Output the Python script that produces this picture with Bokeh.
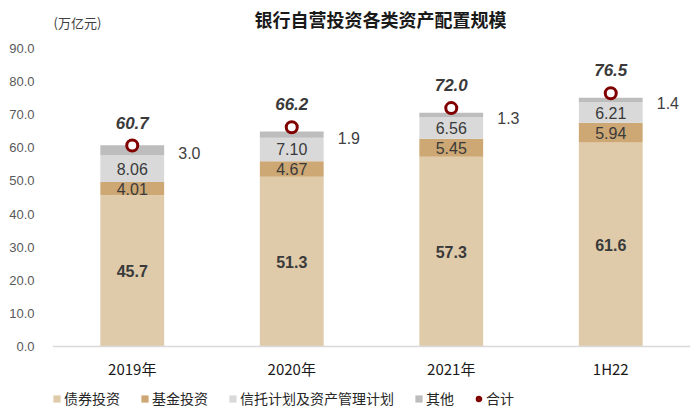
from bokeh.plotting import figure
from bokeh.models import (ColumnDataSource, Range1d, FactorRange, Legend, LegendItem,
                          Label, Span, NumeralTickFormatter)
from bokeh.core.properties import value
from bokeh.embed import file_html
from bokeh.resources import INLINE

categories = ["2019年", "2020年", "2021年", "1H22"]
bonds = [45.7, 51.3, 57.3, 61.6]
funds = [4.01, 4.67, 5.45, 5.94]
trusts = [8.06, 7.10, 6.56, 6.21]
others = [3.0, 1.9, 1.3, 1.4]
totals = [60.7, 66.2, 72.0, 76.5]
series_names = ["债券投资", "基金投资", "信托计划及资产管理计划", "其他"]
total_name = "合计"
unit_text = "(万亿元)"
title_text = "银行自营投资各类资产配置规模"
y_ticks = [0, 10, 20, 30, 40, 50, 60, 70, 80, 90]

colors = ["#DFCBAA", "#CDA774", "#D9D9D9", "#BDBDBD"]
ring_color = "#800000"
cjk = "Noto Sans CJK SC"
latin = "Liberation Sans"

keys = ["bonds", "funds", "trusts", "others"]
data = dict(cat=categories, bonds=bonds, funds=funds, trusts=trusts, others=others,
            totals=totals)
b0 = [0] * 4
b1 = [a for a in bonds]
b2 = [a + b for a, b in zip(b1, funds)]
b3 = [a + b for a, b in zip(b2, trusts)]
b4 = [a + b for a, b in zip(b3, others)]
data["base"] = b0
data["bond_mid"] = [(a + b) / 2 for a, b in zip(b0, b1)]
data["fund_mid"] = [(a + b) / 2 for a, b in zip(b1, b2)]
data["trust_mid"] = [(a + b) / 2 for a, b in zip(b2, b3)]
data["other_mid"] = [(a + b) / 2 for a, b in zip(b3, b4)]
data["bond_txt"] = [f"{v:.1f}" for v in bonds]
data["fund_txt"] = [f"{v:.2f}" for v in funds]
data["trust_txt"] = [f"{v:.2f}" for v in trusts]
data["other_txt"] = [f"{v:.1f}" for v in others]
data["total_txt"] = [f"{v:.1f}" for v in totals]
src = ColumnDataSource(data)

# value range 0..90 occupies the middle of the frame; the frame also hosts title & legend
y_min, y_max = -22.35, 104.5

p = figure(frame_width=638, frame_height=420, x_range=FactorRange(*categories, range_padding=0),
           y_range=Range1d(y_min, y_max), output_backend="svg", toolbar_location=None,
           min_border_left=52, min_border_right=10, min_border_top=0, min_border_bottom=0,
           outline_line_color=None, title=None)

renderers = p.vbar_stack(keys, x="cat", width=0.4, source=src, color=colors,
                         line_color=None)

ring = p.scatter(x="cat", y="totals", source=src, size=11, marker="circle",
                 fill_color="white", line_color=ring_color, line_width=3)

p.text(x="cat", y="bond_mid", text="bond_txt", source=src, text_align="center",
       text_baseline="middle", text_font=value(latin), text_font_size="16px",
       text_font_style="bold", text_color="#3A3A3A")
p.text(x="cat", y="fund_mid", text="fund_txt", source=src, text_align="center",
       text_baseline="middle", text_font=value(latin), text_font_size="16px",
       text_color="#3A3A3A")
p.text(x="cat", y="trust_mid", text="trust_txt", source=src, text_align="center",
       text_baseline="middle", text_font=value(latin), text_font_size="16px",
       text_color="#3A3A3A")
p.text(x="cat", y="other_mid", text="other_txt", source=src, text_align="left",
       text_baseline="middle", x_offset=46, y_offset=3, text_font=value(latin),
       text_font_size="16px", text_color="#404040")
p.text(x="cat", y="totals", text="total_txt", source=src, text_align="center",
       text_baseline="middle", y_offset=-23, text_font=value(latin),
       text_font_size="17px", text_font_style="bold italic", text_color="#3A3A3A")
# category labels under the baseline
p.text(x="cat", y="base", text="cat", source=src, text_align="center",
       text_baseline="middle", y_offset=22, text_font=value(cjk),
       text_font_size="15px", text_color="#1A1A1A")

# baseline (x axis line)
p.add_layout(Span(location=0, dimension="width", line_color="#D9D9D9", line_width=1.5))

p.xaxis.visible = False
p.xgrid.grid_line_color = None
p.ygrid.grid_line_color = None
p.yaxis.ticker = y_ticks
p.yaxis.formatter = NumeralTickFormatter(format="0.0")
p.yaxis.axis_line_color = None
p.yaxis.major_tick_line_color = None
p.yaxis.minor_tick_line_color = None
p.yaxis.major_label_text_font = latin
p.yaxis.major_label_text_font_size = "13px"
p.yaxis.major_label_text_color = "#595959"
p.yaxis.major_label_standoff = 12

p.add_layout(Label(x=2.0, y=99.0, x_offset=9, text=title_text, text_align="center",
                   text_baseline="middle", text_font=cjk, text_font_size="18px",
                   text_font_style="bold", text_color="#1A1A1A"))
p.add_layout(Label(x=0.0, y=97.9, x_offset=1, text=unit_text, text_align="left",
                   text_baseline="middle", text_font=cjk, text_font_size="13px",
                   text_color="#404040"))

items = [LegendItem(label=series_names[i], renderers=[renderers[i]]) for i in range(4)]
items.append(LegendItem(label=total_name, renderers=[ring]))
legend = Legend(items=items, orientation="horizontal", location=(0, 12),
                label_text_font=cjk, label_text_font_size="14px", label_text_color="#262626",
                glyph_width=9, glyph_height=9, label_standoff=3, spacing=20,
                border_line_color=None, background_fill_alpha=0, padding=0, margin=0)
p.add_layout(legend)

open("out.html", "w").write(file_html(p, INLINE))
